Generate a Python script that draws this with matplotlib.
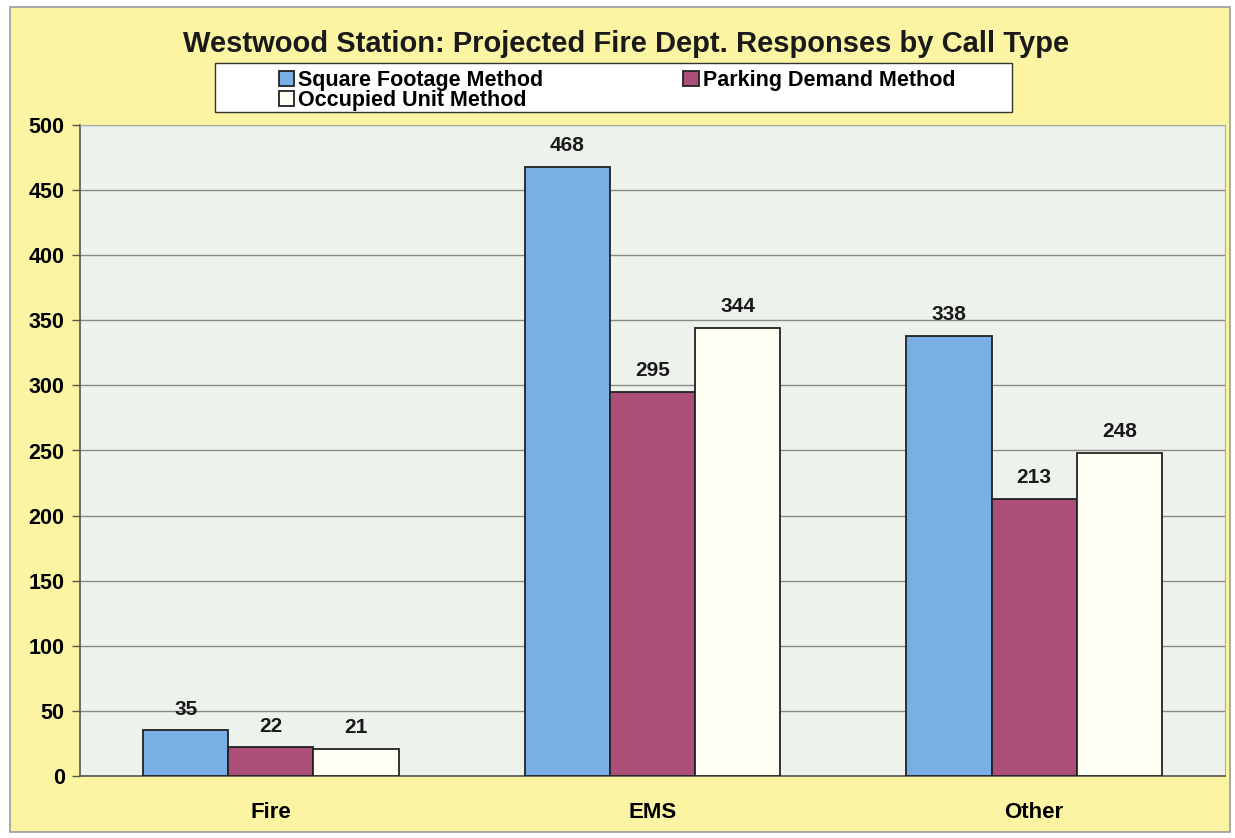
import numpy as np
import matplotlib.pyplot as plt
from matplotlib.patches import Rectangle

plt.rcParams['font.family'] = ['Liberation Sans', 'DejaVu Sans']

# Datos del gráfico
categorias = ['Fire', 'EMS', 'Other']
metodos = ['Square Footage Method', 'Parking Demand Method', 'Occupied Unit Method']
pies_cuadrados = [35, 468, 338]
demanda_parqueo = [22, 295, 213]
unidades_ocupadas = [21, 344, 248]

colores = ['#78B0E5', '#AC4F78', '#FFFFF4']

W, H = 1235, 838
fig = plt.figure(figsize=(W / 100, H / 100), dpi=100)
fig.patch.set_facecolor('white')
# Fondo amarillo con marco gris
fig.patches.append(Rectangle((10 / W, 1 - 832 / H), 1220 / W, 825 / H, transform=fig.transFigure,
                             facecolor='#FBF5A3', edgecolor='#9A9A9A', linewidth=1.2, zorder=-10))

ax = fig.add_axes([80 / W, 62 / H, 1145 / W, 651 / H])
ax.set_facecolor('#EDF3EC')

x = np.arange(len(categorias))
ancho = 0.223
series = [pies_cuadrados, demanda_parqueo, unidades_ocupadas]
barras_leyenda = []
for i, (valores, color, nombre) in enumerate(zip(series, colores, metodos)):
    barras = ax.bar(x + (i - 1) * ancho, valores, ancho, color=color, edgecolor='#222222',
                    linewidth=1.3, label=nombre, zorder=3)
    barras_leyenda.append(barras)
    for b, v in zip(barras, valores):
        ax.text(b.get_x() + b.get_width() / 2, v + 9, str(v), ha='center', va='bottom',
                fontsize=15, fontweight='bold', color='#1A1A1A')

ax.set_xlim(-0.5, 2.5)
ax.set_ylim(0, 500)
ax.set_yticks(range(0, 501, 50))
ax.grid(axis='y', color='#8A8A8A', linewidth=1.0, zorder=0)
ax.set_xticks(x)
ax.set_xticklabels(categorias, fontsize=16, fontweight='bold')
ax.tick_params(axis='x', length=0, pad=19)
ax.tick_params(axis='y', length=6, width=1, color='#555555', labelsize=15.5, pad=5)
for t in ax.get_yticklabels():
    t.set_fontweight('bold')
for lado in ['top', 'right']:
    ax.spines[lado].set_color('#AAAAAA')
for lado in ['left', 'bottom']:
    ax.spines[lado].set_color('#555555')
    ax.spines[lado].set_linewidth(1.2)

fig.text(626 / W, 1 - 44 / H, 'Westwood Station: Projected Fire Dept. Responses by Call Type',
         ha='center', va='center', fontsize=21, fontweight='bold', color='#1A1A1A')

# Caja de la leyenda
fig.patches.append(Rectangle((215 / W, 1 - 112 / H), 797 / W, 49 / H, transform=fig.transFigure,
                             facecolor='white', edgecolor='#333333', linewidth=1.0, zorder=5))
# orden por columnas para que la primera fila tenga dos entradas
orden = [0, 2, 1]
leyenda = fig.legend([barras_leyenda[k] for k in orden], [metodos[k] for k in orden],
                     loc='upper left', bbox_to_anchor=(279 / W, 1 - 70 / H), ncol=2,
                     frameon=False, prop={'weight': 'bold', 'size': 15.5},
                     handlelength=0.7, handleheight=0.75, handletextpad=0.2,
                     columnspacing=6.5, labelspacing=-0.05, borderpad=0, borderaxespad=0)
leyenda.set_zorder(6)

fig.savefig('out.png', dpi=100, facecolor=fig.get_facecolor())
